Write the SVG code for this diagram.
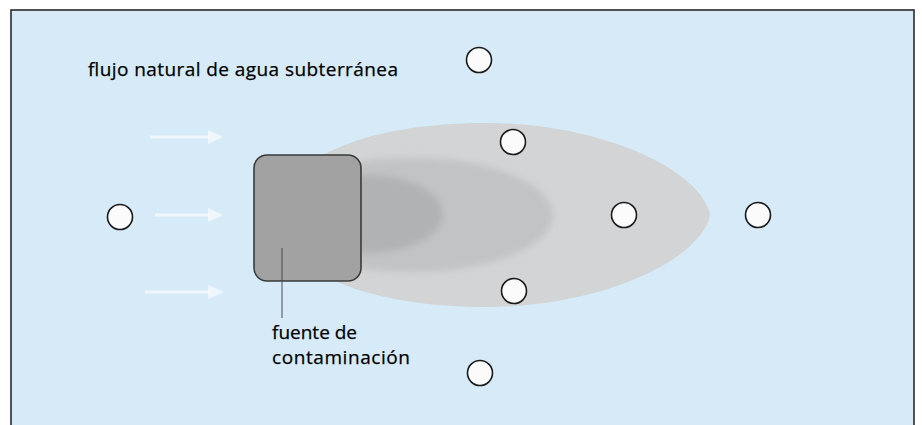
<svg xmlns="http://www.w3.org/2000/svg" width="922" height="425" viewBox="0 0 922 425">
  <defs>
    <style>
      .lbl { font-family: "Open Sans", "Liberation Sans", sans-serif; font-size: 19px; fill: #000000; stroke: #000000; stroke-width: 0.25; }
      .well { fill: #fbfbfb; stroke: #1a1a1a; stroke-width: 1.6; }
      .flow { stroke: #f4f9fd; stroke-width: 3; fill: none; opacity: 0.85; }
      .flowhead { fill: #f4f9fd; opacity: 0.85; }
    </style>
    <filter id="soft" x="-20%" y="-30%" width="140%" height="160%">
      <feGaussianBlur stdDeviation="3.5"/>
    </filter>
  </defs>

  <rect x="0" y="0" width="922" height="425" fill="#ffffff"/>

  <g id="frame">
    <rect x="11" y="10" width="903" height="430" fill="#d6eaf8" stroke="#2a2a2a" stroke-width="1.6"/>
  </g>

  <g id="plume">
    <path d="M 710,215 C 702,172 605,123 485,123 C 365,123 278,160 278,215 C 278,270 365,307 485,307 C 605,307 702,258 710,215 Z" fill="#d2d4d6"/>
    <ellipse cx="412" cy="215" rx="141" ry="57" fill="#c2c3c5" filter="url(#soft)"/>
    <ellipse cx="368" cy="214" rx="75" ry="39" fill="#b1b2b4" filter="url(#soft)"/>
  </g>

  <g id="source">
    <rect x="254" y="155" width="107" height="126" rx="13" ry="13" fill="#a2a2a3" stroke="#3a3a3a" stroke-width="1.6"/>
  </g>

  <g id="connectors">
    <g id="flow-arrows">
      <line class="flow" x1="150" y1="137" x2="210" y2="137"/>
      <polygon class="flowhead" points="208,130 223,137 208,144"/>
      <line class="flow" x1="155" y1="215" x2="210" y2="215"/>
      <polygon class="flowhead" points="208,208 223,215 208,222"/>
      <line class="flow" x1="145" y1="292" x2="210" y2="292"/>
      <polygon class="flowhead" points="208,285 224,292 208,299"/>
    </g>
    <line id="leader" x1="282" y1="248" x2="282" y2="318" stroke="#4a4a4a" stroke-width="1"/>
  </g>

  <g id="wells">
    <g id="well-left"><circle class="well" cx="120" cy="217" r="12.5"/></g>
    <g id="well-top"><circle class="well" cx="479" cy="60" r="12.5"/></g>
    <g id="well-upper"><circle class="well" cx="513" cy="142" r="12.5"/></g>
    <g id="well-center"><circle class="well" cx="624" cy="215" r="12.5"/></g>
    <g id="well-right"><circle class="well" cx="758" cy="215" r="12.5"/></g>
    <g id="well-lower"><circle class="well" cx="514" cy="291" r="12.5"/></g>
    <g id="well-bottom"><circle class="well" cx="480" cy="373" r="12.5"/></g>
  </g>

  <g id="labels">
    <text class="lbl" x="88" y="76" textLength="310" lengthAdjust="spacing">flujo natural de agua subterránea</text>
    <text class="lbl" x="272" y="339">fuente de</text>
    <text class="lbl" x="272" y="364" textLength="138" lengthAdjust="spacing">contaminación</text>
  </g>
</svg>
